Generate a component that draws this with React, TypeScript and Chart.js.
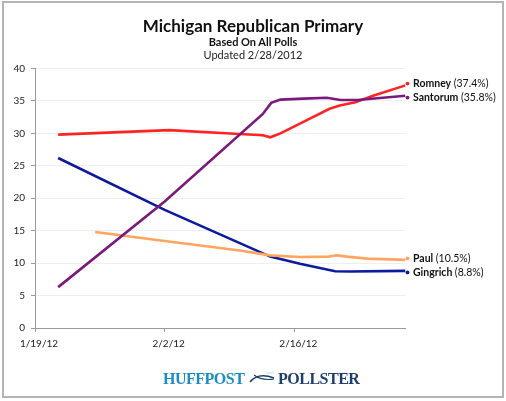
import React, { useEffect, useRef } from "react";
import { Chart, registerables } from "chart.js";

Chart.register(...registerables);

// ---- data (x = days since 1/19/2012) ----
const xTickDays = [0, 14, 28];
const xTickLabels = ["1/19/12", "2/2/12", "2/16/12"];
const yMin = 0;
const yMax = 40;
const yStep = 5;

const seriesNames = ["Santorum", "Romney", "Paul", "Gingrich"];
const seriesColors = ["#7a1b7c", "#ff2424", "#ffa560", "#0c1a9c"];

const santorumDays = [2.5, 14, 24.6, 25.5, 26.5, 29, 31.5, 33, 34.8, 40];
const santorumValues = [6.3, 19.5, 33.0, 34.7, 35.2, 35.35, 35.5, 35.15, 35.15, 35.8];

const romneyDays = [2.5, 14.5, 22.1, 24.6, 25.4, 26.5, 29.3, 31.8, 32.9, 34.6, 36.5, 40];
const romneyValues = [29.8, 30.5, 29.9, 29.7, 29.4, 30.0, 32.0, 33.8, 34.3, 34.8, 35.8, 37.4];

const paulDays = [6.5, 14, 22.1, 25.4, 28.6, 31.7, 32.6, 33.7, 35.9, 40];
const paulValues = [14.8, 13.4, 11.95, 11.2, 10.95, 11.0, 11.2, 11.0, 10.7, 10.5];

const gingrichDays = [2.5, 14, 25.4, 28.6, 32.4, 34, 40];
const gingrichValues = [26.2, 18.2, 11.0, 9.9, 8.75, 8.7, 8.8];

const seriesDays = [santorumDays, romneyDays, paulDays, gingrichDays];
const seriesValues = [santorumValues, romneyValues, paulValues, gingrichValues];

const FONT = "Lato, 'Liberation Sans', sans-serif";

const endLabelPlugin = {
  id: "endLabels",
  afterDatasetsDraw(chart: any) {
    const ctx = chart.ctx;
    const items: any[] = [];
    chart.data.datasets.forEach((ds: any, i: number) => {
      const meta = chart.getDatasetMeta(i);
      const pt = meta.data[meta.data.length - 1];
      const last = ds.data[ds.data.length - 1].y;
      items.push({ x: pt.x, y: pt.y, ly: pt.y, name: ds.label, value: last, color: ds.borderColor });
    });
    items.sort((a, b) => a.y - b.y);
    const gap = 14;
    for (let iter = 0; iter < 10; iter++) {
      for (let i = 0; i < items.length - 1; i++) {
        const a = items[i], b = items[i + 1];
        const d = b.ly - a.ly;
        if (d < gap) {
          const push = (gap - d) / 2;
          a.ly -= push;
          b.ly += push;
        }
      }
    }
    ctx.save();
    items.forEach((it) => {
      const dx = it.x + 2;
      ctx.fillStyle = it.color;
      ctx.beginPath();
      ctx.arc(dx, it.ly, 1.9, 0, Math.PI * 2);
      ctx.fill();
      ctx.textBaseline = "middle";
      ctx.textAlign = "left";
      ctx.fillStyle = "#111";
      ctx.font = `bold 10.5px ${FONT}`;
      const tx = dx + 5.5;
      ctx.fillText(it.name, tx, it.ly);
      const w = ctx.measureText(it.name + " ").width;
      ctx.font = `10.5px ${FONT}`;
      ctx.fillText(`(${it.value.toFixed(1)}%)`, tx + w, it.ly);
    });
    ctx.restore();
  },
};

export default function App() {
  const ref = useRef<HTMLCanvasElement | null>(null);

  useEffect(() => {
    document.body.style.margin = "0";
    const canvas = ref.current!;
    const chart = new Chart(canvas, {
      type: "line",
      data: {
        datasets: seriesNames.map((name, i) => ({
          label: name,
          data: seriesDays[i].map((d, j) => ({ x: d, y: seriesValues[i][j] })),
          borderColor: seriesColors[i],
          backgroundColor: seriesColors[i],
          borderWidth: 2.6,
          pointRadius: 0,
          tension: 0,
          fill: false,
        })),
      },
      options: {
        animation: false,
        responsive: false,
        devicePixelRatio: 1,
        layout: { padding: { left: 0, right: 100.5, top: 68.5, bottom: 53 } },
        plugins: {
          legend: { display: false },
          title: { display: false },
          tooltip: { enabled: false },
        },
        scales: {
          x: {
            type: "linear",
            min: 0,
            max: 40,
            afterBuildTicks: (scale: any) => {
              scale.ticks = xTickDays.map((v) => ({ value: v }));
            },
            afterFit: (scale: any) => {
              scale.height = 20;
            },
            grid: {
              drawOnChartArea: false,
              drawTicks: true,
              tickLength: 4,
              tickColor: "#999",
            },
            border: { color: "#999", width: 1 },
            ticks: {
              autoSkip: false,
              maxRotation: 0,
              padding: 6,
              labelOffset: 4,
              color: "#222",
              font: { family: FONT, size: 10 },
              callback: (v: any) => {
                const idx = xTickDays.indexOf(Number(v));
                return idx >= 0 ? xTickLabels[idx] : "";
              },
            },
          },
          y: {
            min: yMin,
            max: yMax,
            afterFit: (scale: any) => {
              scale.width = 35;
            },
            grid: {
              color: "#efefef",
              tickColor: "#999",
              tickLength: 4,
            },
            border: { color: "#999", width: 1 },
            ticks: {
              stepSize: yStep,
              padding: 6,
              color: "#222",
              font: { family: FONT, size: 10 },
            },
          },
        },
      },
      plugins: [endLabelPlugin],
    } as any);
    return () => chart.destroy();
  }, []);

  return (
    <div style={{ position: "absolute", left: 0, top: 0, width: 506, height: 401, background: "#fff", overflow: "hidden" }}>
      <canvas ref={ref} width={506} height={401} style={{ position: "absolute", left: 0, top: 0, width: 506, height: 401 }} />
      <div style={{ position: "absolute", left: 2, top: 1, width: 502, height: 397, border: "2px solid #b4b4b4", boxSizing: "border-box", pointerEvents: "none" }} />
      <div style={{ position: "absolute", left: 0, width: 506, top: 16, lineHeight: "20px", textAlign: "center", fontFamily: FONT, fontWeight: 700, fontSize: 17, color: "#111" }}>
        Michigan Republican Primary
      </div>
      <div style={{ position: "absolute", left: 0, width: 506, top: 35, lineHeight: "14px", textAlign: "center", fontFamily: FONT, fontWeight: 700, fontSize: 11, color: "#111" }}>
        Based On All Polls
      </div>
      <div style={{ position: "absolute", left: 0, width: 506, top: 48, lineHeight: "14px", textAlign: "center", fontFamily: FONT, fontSize: 11, color: "#222" }}>
        Updated 2/28/2012
      </div>
      <div style={{ position: "absolute", left: 163, top: 369, lineHeight: "20px", fontFamily: "'Liberation Serif', serif", fontWeight: 700, fontSize: 16, letterSpacing: -0.5, color: "#1b8cc4" }}>
        HUFFPOST
      </div>
      <svg style={{ position: "absolute", left: 248, top: 370 }} width={28} height={16} viewBox="0 0 28 16">
        <path d="M2 12 Q10 2 26 8" stroke="#1c3f6e" strokeWidth={1.6} fill="none" />
        <path d="M6 5 Q14 11 26 9" stroke="#1c3f6e" strokeWidth={1.2} fill="none" />
        <path d="M18 3 L26 3" stroke="#b9d3e6" strokeWidth={0.8} fill="none" />
      </svg>
      <div style={{ position: "absolute", left: 278, top: 369, lineHeight: "20px", fontFamily: "'Liberation Serif', serif", fontWeight: 700, fontSize: 16, letterSpacing: -0.5, color: "#1c3f6e" }}>
        POLLSTER
      </div>
    </div>
  );
}
